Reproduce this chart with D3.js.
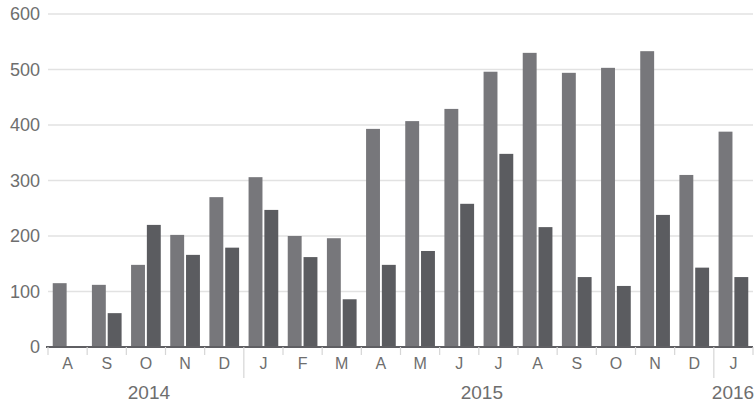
<!DOCTYPE html>
<html lang="en">
<head>
<meta charset="UTF-8">
<title>Monthly bars</title>
<script src="https://d3js.org/d3.v7.min.js"></script>
<style>
    body { margin: 0; background: #fff; }
    svg { display: block; font-family: "Liberation Sans", Arial, sans-serif; }
    .grid line { stroke: #e2e2e2; stroke-width: 1.5px; }
    .ylab { fill: #6e6e6e; font-size: 18px; text-anchor: end; }
    .mlab { fill: #6e6e6e; font-size: 16px; text-anchor: middle; }
    .year { fill: #6e6e6e; font-size: 19px; }
</style>
</head>
<body>
<svg></svg>
<script>
const [width, height] = [755, 404]
const months = ['A','S','O','N','D','J','F','M','A','M','J','J','A','S','O','N','D','J']
const seriesA = [115, 112, 148, 202, 270, 306, 200, 196, 393, 407, 429, 496, 530, 494, 503, 533, 310, 388]
const seriesB = [0, 61, 220, 166, 179, 247, 162, 86, 148, 173, 258, 348, 216, 126, 110, 238, 143, 126]
const yTicks = [0, 100, 200, 300, 400, 500, 600]
const years = [{label: '2014', from: 0, to: 5}, {label: '2015', from: 5, to: 17}, {label: '2016', from: 17, to: 18}]

const svg = d3.select('svg').attr('width', width).attr('height', height)
const mLeft = 48, mRight = 753, mTop = 14, base = 347

const x = d3.scaleBand().domain(d3.range(months.length)).range([mLeft, mRight])
const inner = d3.scaleBand().domain([0, 1]).range([0, x.bandwidth()]).paddingInner(0.12).paddingOuter(0.3)
const y = d3.scaleLinear().domain([0, 600]).range([base, mTop])

svg.append('g').attr('class', 'grid').selectAll('line').data(yTicks.slice(1)).join('line')
    .attr('x1', mLeft).attr('x2', mRight).attr('y1', d => y(d)).attr('y2', d => y(d))

svg.selectAll('.ylab').data(yTicks).join('text').attr('class', 'ylab')
    .attr('x', 40).attr('y', d => y(d) + 6).text(d => d)

const g = svg.append('g')
g.selectAll('.a').data(seriesA).join('rect').attr('fill', '#77777b')
    .attr('x', (d, i) => x(i) + inner(0)).attr('width', inner.bandwidth())
    .attr('y', d => y(d)).attr('height', d => base - y(d))
g.selectAll('.b').data(seriesB).join('rect').attr('fill', '#5b5c60')
    .attr('x', (d, i) => x(i) + inner(1)).attr('width', inner.bandwidth())
    .attr('y', d => y(d)).attr('height', d => base - y(d))

svg.append('line').attr('x1', mLeft - 2).attr('x2', mRight).attr('y1', base).attr('y2', base)
    .attr('stroke', '#5f5f63').attr('stroke-width', 2)

// month ticks between groups, longer ones at year changes
const yearStarts = years.map(d => d.from)
svg.selectAll('.mtick').data(d3.range(months.length + 1)).join('line')
    .attr('x1', i => i < months.length ? x(i) : mRight).attr('x2', i => i < months.length ? x(i) : mRight)
    .attr('y1', base).attr('y2', i => yearStarts.includes(i) && i > 0 ? 378 : base + 8)
    .attr('stroke', '#d6d6d6').attr('stroke-width', 1.2)

svg.selectAll('.mlab').data(months).join('text').attr('class', 'mlab')
    .attr('x', (d, i) => x(i) + x.bandwidth() / 2).attr('y', 369).text(d => d)

svg.selectAll('.year').data(years).join('text').attr('class', 'year')
    .style('text-anchor', d => d.to - d.from === 1 ? 'start' : 'middle')
    .attr('x', d => d.to - d.from === 1 ? x(d.from) - 2 : (x(d.from) + (d.to < months.length ? x(d.to) : mRight)) / 2 + 3)
    .attr('y', 399).text(d => d.label)
</script>
</body>
</html>
